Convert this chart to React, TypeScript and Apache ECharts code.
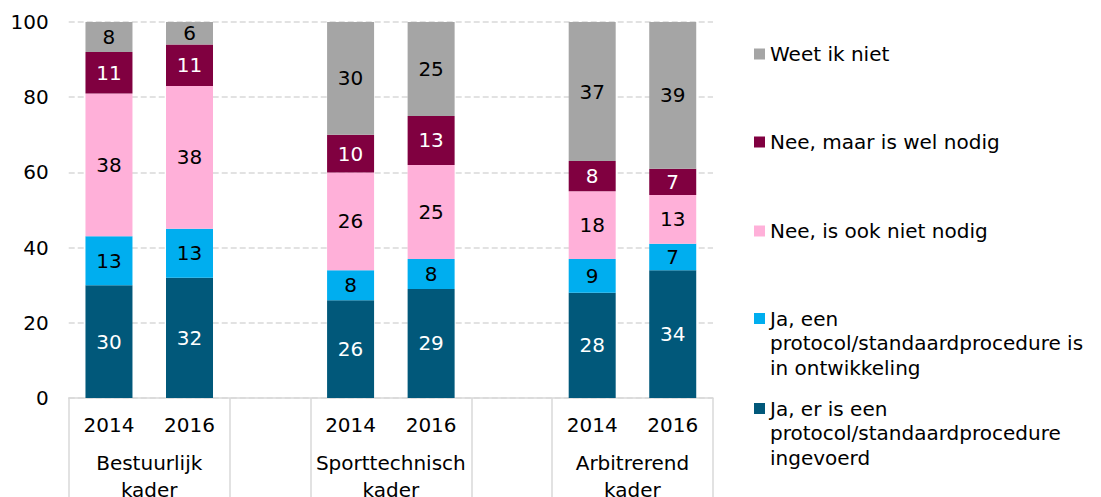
import React, { useEffect, useRef } from "react";
import * as echarts from "echarts";

const slotLabels = ["2014", "2016", "", "2014", "2016", "", "2014", "2016"];
const groupLabels = ["Bestuurlijk\nkader", "Sporttechnisch\nkader", "Arbitrerend\nkader"];
const yTicks = [0, 20, 40, 60, 80, 100];

// per bar: Bestuurlijk 2014, 2016, Sporttechnisch 2014, 2016, Arbitrerend 2014, 2016
const ingevoerd = [30, 32, 26, 29, 28, 34];
const inOntwikkeling = [13, 13, 8, 8, 9, 7];
const nietNodig = [38, 38, 26, 25, 18, 13];
const welNodig = [11, 11, 10, 13, 8, 7];
const weetNiet = [8, 6, 30, 25, 37, 39];

const seriesNames = [
  "Ja, er is een\nprotocol/standaardprocedure\ningevoerd",
  "Ja, een\nprotocol/standaardprocedure is\nin ontwikkeling",
  "Nee, is ook niet nodig",
  "Nee, maar is wel nodig",
  "Weet ik niet",
];
const seriesColors = ["#01587A", "#00AEEF", "#FFB0D9", "#800040", "#A5A5A5"];
const labelColors = ["#fff", "#000", "#000", "#fff", "#000"];
const seriesValues = [ingevoerd, inOntwikkeling, nietNodig, welNodig, weetNiet];

const FONT = "DejaVu Sans";

function toSlots(arr: number[]) {
  return [arr[0], arr[1], null, arr[2], arr[3], null, arr[4], arr[5]];
}

export default function App() {
  const ref = useRef<HTMLDivElement>(null);
  useEffect(() => {
    if (!ref.current) return;
    const chart = echarts.init(ref.current, null, { renderer: "svg" });

    const groupAxisData: string[] = [];
    for (let i = 0; i <= 16; i++) groupAxisData.push("");
    groupAxisData[2] = groupLabels[0];
    groupAxisData[8] = groupLabels[1];
    groupAxisData[14] = groupLabels[2];
    const tickIdx = [0, 4, 6, 10, 12, 16];

    // legend (top to bottom: reverse of stacking order)
    const legendCenters = [54, 142, 231, 318.5, 408.5];
    const legendGraphics: any[] = [];
    const order = [4, 3, 2, 1, 0];
    order.forEach((si, k) => {
      const c = legendCenters[k];
      legendGraphics.push({
        type: "rect",
        shape: { x: 754, y: c - 5.5, width: 11, height: 11 },
        style: { fill: seriesColors[si] },
      });
      legendGraphics.push({
        type: "text",
        style: {
          x: 770,
          y: c - 12.25,
          text: seriesNames[si],
          font: `20px "${FONT}"`,
          lineHeight: 24.5,
          fill: "#000",
          verticalAlign: "top",
        },
      });
    });

    chart.setOption({
      animation: false,
      textStyle: { fontFamily: FONT },
      grid: {
        left: 68.7,
        right: 388,
        top: 22,
        bottom: 99,
        containLabel: false,
        outerBoundsMode: "none",
      },
      xAxis: [
        {
          type: "category",
          data: slotLabels,
          axisLine: { show: true, lineStyle: { color: "#D9D9D9", width: 1.5 } },
          axisTick: { show: false },
          axisLabel: {
            interval: 0,
            color: "#000",
            fontSize: 20,
            fontFamily: FONT,
            lineHeight: 20,
            margin: 17,
          },
        },
        {
          type: "category",
          position: "bottom",
          boundaryGap: false,
          data: groupAxisData,
          axisLine: { show: false },
          axisTick: {
            show: true,
            length: 110,
            interval: (i: number) => tickIdx.includes(i),
            lineStyle: { color: "#D9D9D9", width: 1.5 },
          },
          axisLabel: {
            interval: (i: number, v: string) => v !== "",
            color: "#000",
            fontSize: 20,
            fontFamily: FONT,
            lineHeight: 27,
            margin: 51,
          },
          splitLine: { show: false },
        },
      ],
      yAxis: {
        type: "value",
        min: yTicks[0],
        max: yTicks[yTicks.length - 1],
        interval: 20,
        axisLine: { show: false },
        axisTick: { show: false },
        axisLabel: { color: "#000", fontSize: 20, fontFamily: FONT, margin: 20 },
        splitLine: { lineStyle: { color: "#D9D9D9", width: 1.5, type: [6, 3] } },
      },
      series: seriesValues.map((vals, si) => ({
        name: seriesNames[si],
        type: "bar",
        stack: "total",
        barWidth: 47,
        xAxisIndex: 0,
        data: toSlots(vals),
        itemStyle: { color: seriesColors[si] },
        label: {
          show: true,
          position: "inside",
          color: labelColors[si],
          fontSize: 20,
          fontFamily: FONT,
        },
      })),
      graphic: legendGraphics,
    });
    return () => chart.dispose();
  }, []);
  return (
    <div
      ref={ref}
      style={{ position: "fixed", left: 0, top: 0, width: 1101, height: 497, background: "#fff" }}
    />
  );
}
